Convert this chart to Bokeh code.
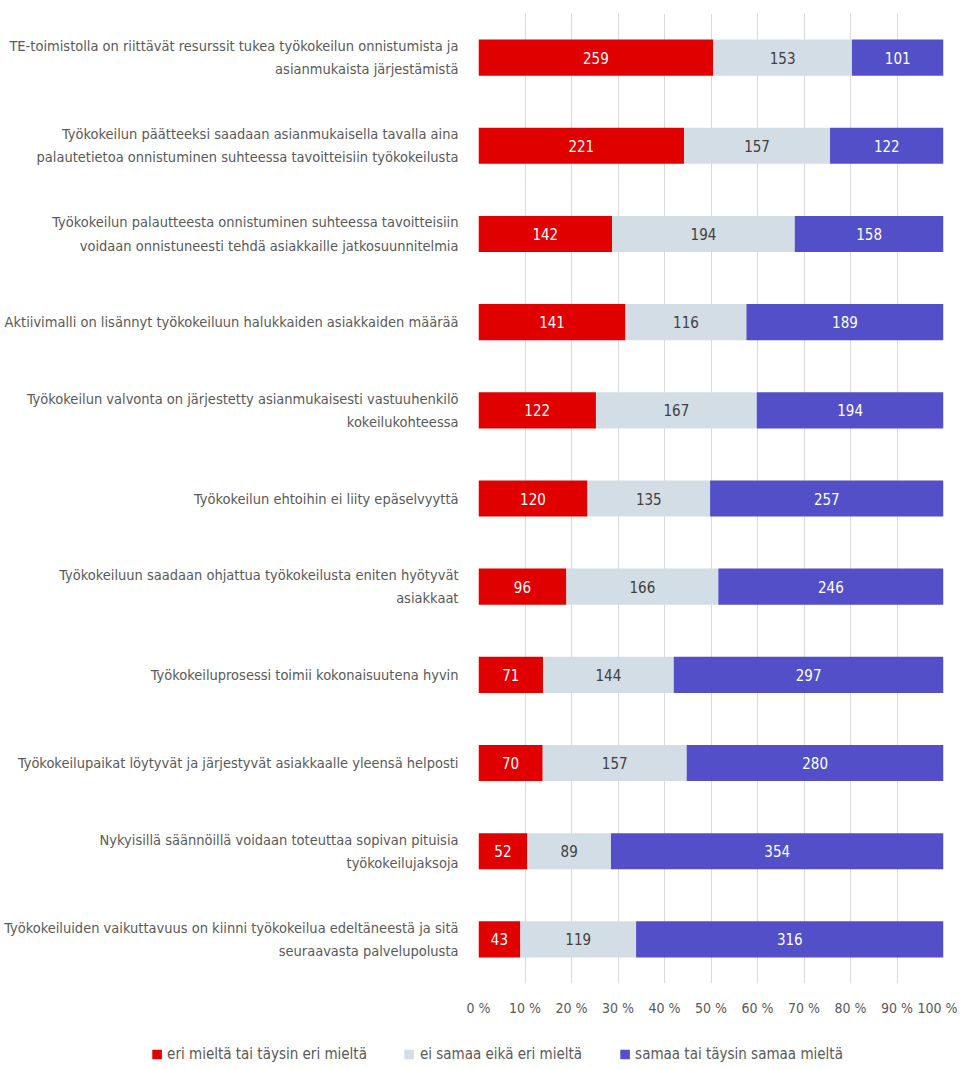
from bokeh.plotting import figure
from bokeh.models import ColumnDataSource, FactorRange, Legend, LegendItem, FixedTicker, Range1d
from bokeh.layouts import column
from bokeh.core.properties import value
from bokeh.embed import file_html
from bokeh.resources import INLINE

categories = [
    "TE-toimistolla on riittävät resurssit tukea työkokeilun onnistumista ja\nasianmukaista järjestämistä",
    "Työkokeilun päätteeksi saadaan asianmukaisella tavalla aina\npalautetietoa onnistuminen suhteessa tavoitteisiin työkokeilusta",
    "Työkokeilun palautteesta onnistuminen suhteessa tavoitteisiin\nvoidaan onnistuneesti tehdä asiakkaille jatkosuunnitelmia",
    "Aktiivimalli on lisännyt työkokeiluun halukkaiden asiakkaiden määrää",
    "Työkokeilun valvonta on järjestetty asianmukaisesti vastuuhenkilö\nkokeilukohteessa",
    "Työkokeilun ehtoihin ei liity epäselvyyttä",
    "Työkokeiluun saadaan ohjattua työkokeilusta eniten hyötyvät\nasiakkaat",
    "Työkokeiluprosessi toimii kokonaisuutena hyvin",
    "Työkokeilupaikat löytyvät ja järjestyvät asiakkaalle yleensä helposti",
    "Nykyisillä säännöillä voidaan toteuttaa sopivan pituisia\ntyökokeilujaksoja",
    "Työkokeiluiden vaikuttavuus on kiinni työkokeilua edeltäneestä ja sitä\nseuraavasta palvelupolusta",
]
series_names = ["eri mieltä tai täysin eri mieltä", "ei samaa eikä eri mieltä", "samaa tai täysin samaa mieltä"]
disagree = [259, 221, 142, 141, 122, 120, 96, 71, 70, 52, 43]
neutral = [153, 157, 194, 116, 167, 135, 166, 144, 157, 89, 119]
agree = [101, 122, 158, 189, 194, 257, 246, 297, 280, 354, 316]
tick_values = [0, 0.1, 0.2, 0.3, 0.4, 0.5, 0.6, 0.7, 0.8, 0.9, 1.0]
tick_labels = ["0 %", "10 %", "20 %", "30 %", "40 %", "50 %", "60 %", "70 %", "80 %", "90 %", "100 %"]

colors = ["#E00000", "#D3DDE5", "#524FC8"]
label_colors = ["#FFFFFF", "#404040", "#FFFFFF"]
FONT = "'Liberation Sans Narrow', 'DejaVu Sans Condensed', 'Roboto Condensed', sans-serif"
TEXT_COLOR = "#595959"

totals = [a + b + c for a, b, c in zip(disagree, neutral, agree)]
f1 = [a / t for a, t in zip(disagree, totals)]
f2 = [b / t for b, t in zip(neutral, totals)]
f3 = [c / t for c, t in zip(agree, totals)]

source = ColumnDataSource(dict(cat=categories, s1=f1, s2=f2, s3=f3))

p = figure(
    width=957, height=1018,
    y_range=FactorRange(factors=list(reversed(categories)), range_padding=0),
    x_range=Range1d(0, 1),
    output_backend="svg", toolbar_location=None,
    min_border_left=478, min_border_right=14, min_border_top=13, min_border_bottom=4,
)

renderers = p.hbar_stack(["s1", "s2", "s3"], y="cat", height=0.41, color=colors,
                         line_color=None, source=source)

# segment labels
for i, (vals, counts) in enumerate([(f1, disagree), (f2, neutral), (f3, agree)]):
    starts = []
    for j in range(len(categories)):
        s = 0
        if i >= 1:
            s += f1[j]
        if i >= 2:
            s += f2[j]
        starts.append(s)
    centers = [s + v / 2 for s, v in zip(starts, vals)]
    lsrc = ColumnDataSource(dict(x=centers, y=categories, t=[str(c) for c in counts]))
    p.text(x="x", y="y", text="t", source=lsrc, text_align="center", text_baseline="middle",
           text_font=value(FONT), text_font_size="15px", text_color=label_colors[i])

p.xaxis.ticker = FixedTicker(ticks=tick_values)
p.xaxis.major_label_overrides = {v: l for v, l in zip(tick_values, tick_labels)}
p.xaxis.axis_line_color = None
p.xaxis.major_tick_line_color = None
p.xaxis.minor_tick_line_color = None
p.xaxis.major_label_text_font = FONT
p.xaxis.major_label_text_font_size = "14px"
p.xaxis.major_label_text_color = TEXT_COLOR
p.xaxis.major_label_standoff = 10

p.yaxis.axis_line_color = None
p.yaxis.major_tick_line_color = None
p.yaxis.minor_tick_line_color = None
p.yaxis.major_label_text_font = FONT
p.yaxis.major_label_text_font_size = "14.5px"
p.yaxis.major_label_text_color = TEXT_COLOR
p.yaxis.major_label_text_line_height = 1.45
p.yaxis.major_label_standoff = 14

p.xgrid.grid_line_color = "#D9D9D9"
p.xgrid.ticker = FixedTicker(ticks=tick_values)
p.ygrid.grid_line_color = None
p.outline_line_color = None

# legend in its own strip below the chart (dummy bars lie outside the visible range)
lp = figure(width=957, height=46, x_range=Range1d(0, 1), y_range=Range1d(0, 1),
            output_backend="svg", toolbar_location=None,
            min_border_left=36, min_border_right=0, min_border_top=0, min_border_bottom=0)
try:
    lp.frame_align = False
except Exception:
    pass
lp.axis.visible = False
lp.grid.visible = False
lp.outline_line_color = None
leg_renderers = []
for c in colors:
    src = ColumnDataSource(dict(y=[-5.0], l=[-5.0], r=[-4.0]))
    leg_renderers.append(lp.hbar(y="y", left="l", right="r", height=0.5, fill_color=c,
                                 line_color=None, source=src))
legend = Legend(items=[LegendItem(label=n, renderers=[r]) for n, r in zip(series_names, leg_renderers)],
                orientation="horizontal", location="bottom",
                label_text_font=FONT, label_text_font_size="15px", label_text_color=TEXT_COLOR,
                glyph_width=12, glyph_height=12, spacing=36, border_line_color=None,
                background_fill_alpha=0, margin=1, padding=2, label_standoff=5)
lp.add_layout(legend, "center")

layout = column(p, lp, spacing=0)
open("out.html", "w").write(file_html(layout, INLINE))
